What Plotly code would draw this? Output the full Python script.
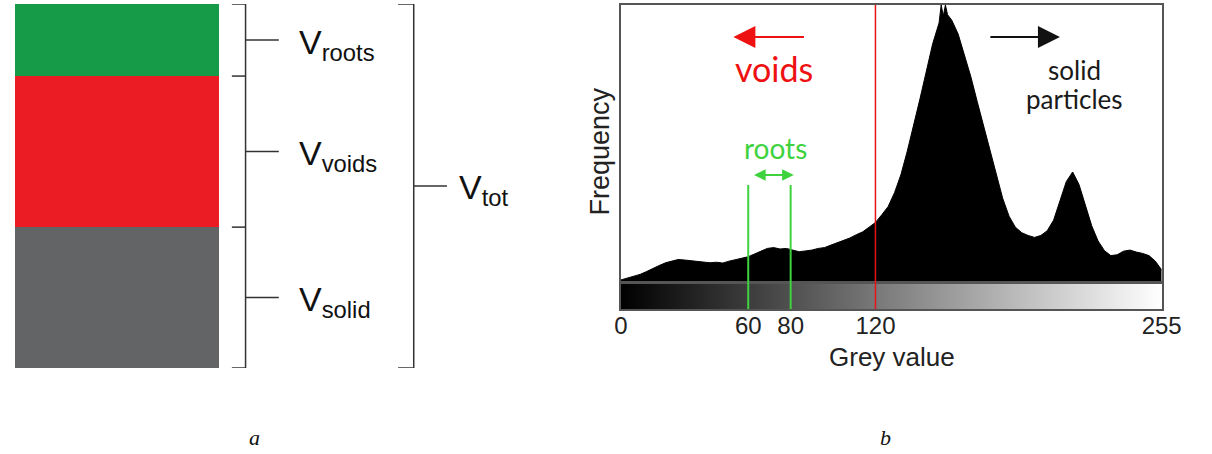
import plotly.graph_objects as go

W, H = 1212, 454


def px(x):
    return x / W


def py(y):
    return 1 - y / H


# ---------------- panel a data ----------------
components = ["solid", "voids", "roots"]
volumes = [38.7, 41.5, 19.8]          # share of total volume (bottom -> top)
comp_colors = ["#636466", "#ec1c24", "#169c48"]
comp_labels = ["V<sub>solid</sub>", "V<sub>voids</sub>", "V<sub>roots</sub>"]
total_label = "V<sub>tot</sub>"

# ---------------- panel b data ----------------
grey_values = [0, 3, 6, 9, 12, 15, 18, 21, 24, 27, 30, 33, 36, 39, 42, 45, 48, 51, 54, 57,
               60, 63, 66, 69, 72, 75, 78, 81, 84, 87, 90, 93, 96, 99, 102, 105, 108, 111,
               114, 117, 120, 123, 126, 129, 132, 135, 138, 141, 144, 147, 150, 151, 152,
               153, 154, 156, 159, 162, 165, 168, 171, 174, 177, 180, 183, 186, 189, 192,
               195, 198, 201, 204, 207, 210, 213, 216, 219, 222, 225, 228, 231, 234, 237,
               240, 243, 246, 249, 252, 255]
frequency = [0.004, 0.010, 0.016, 0.024, 0.034, 0.046, 0.056, 0.066, 0.072, 0.078, 0.076,
             0.074, 0.071, 0.069, 0.066, 0.068, 0.065, 0.072, 0.078, 0.083, 0.088, 0.098,
             0.108, 0.118, 0.121, 0.116, 0.118, 0.112, 0.106, 0.109, 0.112, 0.118, 0.121,
             0.130, 0.138, 0.146, 0.156, 0.168, 0.178, 0.195, 0.212, 0.240, 0.270, 0.320,
             0.385, 0.470, 0.560, 0.660, 0.760, 0.860, 0.935, 1.000, 0.960, 1.000, 0.965,
             0.945, 0.895, 0.820, 0.740, 0.650, 0.560, 0.470, 0.380, 0.300, 0.235, 0.195,
             0.175, 0.165, 0.158, 0.165, 0.182, 0.220, 0.290, 0.360, 0.395, 0.350, 0.275,
             0.200, 0.145, 0.110, 0.092, 0.095, 0.108, 0.112, 0.105, 0.100, 0.092, 0.072,
             0.040]
tick_values = [0, 60, 80, 120, 255]
tick_labels = ["0", "60", "80", "120", "255"]
roots_range = [60, 80]
threshold = 120
grey_ramp = list(range(0, 256))

SANS = "Liberation Sans, Arial, sans-serif"
HUM = "Lato, Open Sans, sans-serif"

fig = go.Figure()

# stacked volume bar
for comp, v, c in zip(components, volumes, comp_colors):
    fig.add_trace(go.Bar(x=[0], y=[v], name=comp, marker=dict(color=c, line=dict(width=0)),
                         width=1, xaxis="x", yaxis="y", showlegend=False, hoverinfo="skip"))

# histogram
fig.add_trace(go.Scatter(x=grey_values, y=frequency, mode="lines", line=dict(color="black", width=1),
                         fill="tozeroy", fillcolor="black", xaxis="x2", yaxis="y2",
                         showlegend=False, hoverinfo="skip"))

# grey gradient bar
fig.add_trace(go.Heatmap(z=[grey_ramp], x=grey_ramp, y=[0], colorscale=[[0, "#000000"], [1, "#ffffff"]],
                         showscale=False, xaxis="x3", yaxis="y3", hoverinfo="skip"))

shapes = []
annotations = []
BR = dict(color="#333333", width=1.5)

# bracket 1 (individual components)
bounds = [0]
for v in volumes:
    bounds.append(bounds[-1] + v)
tot = bounds[-1]
shapes.append(dict(type="line", xref="paper", yref="y", x0=px(244), x1=px(244), y0=0, y1=tot, line=BR))
for b in bounds:
    shapes.append(dict(type="line", xref="paper", yref="y", x0=px(230), x1=px(244), y0=b, y1=b, line=BR))
for i, lab in enumerate(comp_labels):
    mid = (bounds[i] + bounds[i + 1]) / 2
    shapes.append(dict(type="line", xref="paper", yref="y", x0=px(244), x1=px(278), y0=mid, y1=mid, line=BR))
    annotations.append(dict(xref="paper", yref="y", x=px(297), y=mid, text=lab, showarrow=False,
                            xanchor="left", yanchor="middle", yshift=-4,
                            font=dict(family=SANS, size=34, color="#111111")))

# bracket 2 (total)
shapes.append(dict(type="line", xref="paper", yref="y", x0=px(416), x1=px(416), y0=0, y1=tot, line=BR))
for b in [0, tot]:
    shapes.append(dict(type="line", xref="paper", yref="y", x0=px(400), x1=px(416), y0=b, y1=b, line=BR))
shapes.append(dict(type="line", xref="paper", yref="y", x0=px(416), x1=px(450), y0=tot / 2, y1=tot / 2, line=BR))
annotations.append(dict(xref="paper", yref="y", x=px(460), y=tot / 2, text=total_label, showarrow=False,
                        xanchor="left", yanchor="middle", yshift=-4,
                        font=dict(family=SANS, size=34, color="#111111")))

# threshold and roots lines
shapes.append(dict(type="line", xref="x2", yref="paper", x0=threshold, x1=threshold, y0=py(309), y1=py(5),
                   line=dict(color="#e8121a", width=1.5)))
for g in roots_range:
    shapes.append(dict(type="line", xref="x2", yref="paper", x0=g, x1=g, y0=py(309), y1=py(185),
                       line=dict(color="#3fd23f", width=2)))

# arrows
annotations.append(dict(xref="x2", yref="y2", axref="x2", ayref="y2", x=53, y=0.884, ax=87, ay=0.884,
                        text="", showarrow=True, arrowhead=2, arrowsize=2.2, arrowwidth=2, arrowcolor="#ee1111"))
annotations.append(dict(xref="x2", yref="y2", axref="x2", ayref="y2", x=207, y=0.884, ax=173.5, ay=0.884,
                        text="", showarrow=True, arrowhead=2, arrowsize=2.2, arrowwidth=2, arrowcolor="#111111"))
annotations.append(dict(xref="x2", yref="y2", axref="x2", ayref="y2", x=roots_range[1] + 1.5, y=0.384,
                        ax=roots_range[0] + 2, ay=0.384, text="", showarrow=True, arrowhead=2, startarrowhead=2,
                        arrowside="end+start", arrowsize=1.3, startarrowsize=1.3, arrowwidth=1.8,
                        arrowcolor="#3fd23f"))

C = dict(showarrow=False, xanchor="center", yanchor="middle")
annotations.append(dict(xref="x2", yref="paper", x=72, y=py(68), text="voids",
                        font=dict(family=HUM, size=34, color="#ee1111"), **C))
annotations.append(dict(xref="x2", yref="paper", x=73, y=py(148), text="roots",
                        font=dict(family=HUM, size=28, color="#3fd23f"), **C))
annotations.append(dict(xref="x2", yref="paper", x=214, y=py(70), text="solid",
                        font=dict(family=HUM, size=26, color="#1a1a1a"), **C))
annotations.append(dict(xref="x2", yref="paper", x=214, y=py(99), text="particles",
                        font=dict(family=HUM, size=26, color="#1a1a1a"), **C))
annotations.append(dict(xref="paper", yref="paper", x=px(606), y=py(152), text="Frequency", textangle=-90,
                        font=dict(family=SANS, size=27, color="#222222"), **C))
annotations.append(dict(xref="paper", yref="paper", x=px(905), y=py(357), text="Grey value",
                        font=dict(family=SANS, size=26, color="#222222"), **C))

# panel letters
annotations.append(dict(xref="paper", yref="paper", x=px(253), y=py(437), text="a",
                        font=dict(family="Liberation Serif, serif", size=22, color="#111111", style="italic"), **C))
annotations.append(dict(xref="paper", yref="paper", x=px(899), y=py(437), text="b",
                        font=dict(family="Liberation Serif, serif", size=22, color="#111111", style="italic"), **C))

FRAME = dict(showline=True, mirror=True, linecolor="#555555", linewidth=1.5, showgrid=False, zeroline=False)

fig.update_layout(
    width=W, height=H, margin=dict(l=0, r=0, t=0, b=0),
    paper_bgcolor="white", plot_bgcolor="white",
    barmode="stack", bargap=0,
    shapes=shapes, annotations=annotations,
    xaxis=dict(domain=[px(8), px(217)], range=[-0.5, 0.5], visible=False, fixedrange=True),
    yaxis=dict(domain=[py(368), py(4)], range=[0, tot], visible=False, fixedrange=True),
    xaxis2=dict(domain=[px(628), px(1181)], range=[0, 255], anchor="y2", showticklabels=False, ticks="", **FRAME),
    yaxis2=dict(domain=[py(281), py(5)], range=[0, 1.0], anchor="x2", showticklabels=False, ticks="", **FRAME),
    xaxis3=dict(domain=[px(628), px(1181)], range=[0, 255], anchor="y3", tickvals=tick_values, ticktext=tick_labels,
                ticks="", ticklabelstandoff=-6, tickfont=dict(family=SANS, size=24, color="#222222"), **FRAME),
    yaxis3=dict(domain=[py(309), py(284)], range=[-0.5, 0.5], anchor="x3", showticklabels=False, ticks="", **FRAME),
)

fig.write_html("out.html")
